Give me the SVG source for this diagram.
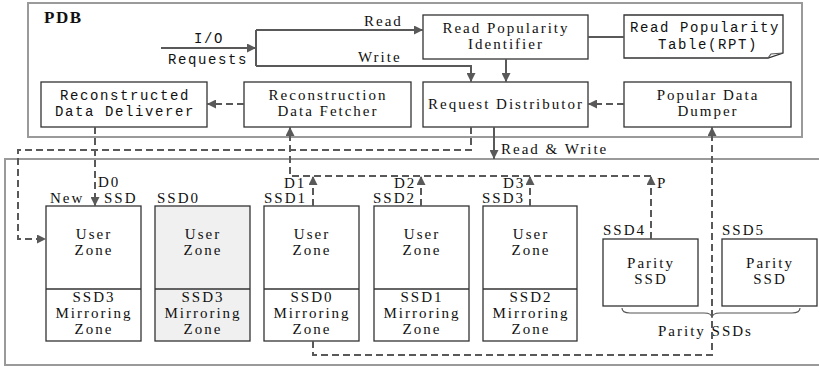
<svg xmlns="http://www.w3.org/2000/svg" width="819" height="366" viewBox="0 0 819 366">
  <style>
    .frame { fill: none; stroke: #9a9a9a; stroke-width: 2; }
    .box { fill: #ffffff; stroke: #333333; stroke-width: 1.3; }
    .box.gray { fill: #f0f0f0; }
    .serif { font-family: "Liberation Serif", "DejaVu Serif", "Times New Roman", serif; font-size: 15px; font-weight: normal; fill: #111111; letter-spacing: 2px; }
    .mono { font-family: "Liberation Mono", "DejaVu Sans Mono", "Courier New", monospace; font-size: 14px; font-weight: normal; fill: #111111; letter-spacing: 1.6px; }
    .mid { text-anchor: middle; }
    .title { font-family: "Liberation Serif", "DejaVu Serif", "Times New Roman", serif; font-size: 17px; font-weight: bold; fill: #111111; letter-spacing: 1.5px; }
    .solid { fill: none; stroke: #595959; stroke-width: 2; }
    .dash { fill: none; stroke: #595959; stroke-width: 2; stroke-dasharray: 7 4; }
    .thin { fill: none; stroke: #555555; stroke-width: 1.2; }
  </style>
  <defs>
    <marker id="arrow" viewBox="0 0 10 10" refX="10" refY="5" markerWidth="9" markerHeight="9" markerUnits="userSpaceOnUse" orient="auto">
      <path d="M0,0 L10,5 L0,10 z" fill="#595959"/>
    </marker>
  </defs>

  <!-- outer frames -->
  <rect class="frame" x="28" y="3" width="774" height="134"/>
  <rect class="frame" x="5" y="159" width="818" height="206"/>
  <text class="title" x="44" y="23">PDB</text>

  <!-- PDB components -->
  <g id="read-popularity-identifier">
    <rect class="box" x="423" y="15" width="165" height="44"/>
    <text class="serif mid" x="506" y="33">Read Popularity</text>
    <text class="serif mid" x="506" y="49">Identifier</text>
  </g>
  <g id="read-popularity-table">
    <path class="box" d="M624,15 H783 V53 L768,58 H624 Z"/>
    <path class="thin" d="M768,58 L771,54 L783,53"/>
    <text class="mono mid" x="705" y="32">Read Popularity</text>
    <text class="mono mid" x="708" y="49">Table(RPT)</text>
  </g>
  <g id="reconstructed-data-deliverer">
    <rect class="box" x="41" y="82" width="166" height="45"/>
    <text class="mono mid" x="125" y="100">Reconstructed</text>
    <text class="mono mid" x="125" y="116">Data Deliverer</text>
  </g>
  <g id="reconstruction-data-fetcher">
    <rect class="box" x="244" y="82" width="167" height="45"/>
    <text class="serif mid" x="328" y="100">Reconstruction</text>
    <text class="serif mid" x="328" y="116">Data Fetcher</text>
  </g>
  <g id="request-distributor">
    <rect class="box" x="423" y="82" width="165" height="45"/>
    <text class="serif mid" x="506" y="109">Request Distributor</text>
  </g>
  <g id="popular-data-dumper">
    <rect class="box" x="624" y="82" width="167" height="45"/>
    <text class="serif mid" x="708" y="100">Popular Data</text>
    <text class="serif mid" x="708" y="116">Dumper</text>
  </g>

  <!-- SSD array -->
  <g id="new-ssd">
    <rect class="box" x="46" y="206" width="95" height="135"/>
    <line class="box" x1="46" y1="289" x2="141" y2="289"/>
    <text class="serif mid" x="94" y="239">User</text>
    <text class="serif mid" x="94" y="255">Zone</text>
    <text class="serif mid" x="94" y="302">SSD3</text>
    <text class="serif mid" x="94" y="318">Mirroring</text>
    <text class="serif mid" x="94" y="334">Zone</text>
    <text class="serif" x="50" y="203">New</text>
    <text class="serif" x="104" y="203">SSD</text>
    <text class="serif" x="98" y="187">D0</text>
  </g>
  <g id="ssd0">
    <rect class="box gray" x="155" y="206" width="95" height="135"/>
    <line class="box" x1="155" y1="289" x2="250" y2="289"/>
    <text class="serif mid" x="203" y="239">User</text>
    <text class="serif mid" x="203" y="255">Zone</text>
    <text class="serif mid" x="203" y="302">SSD3</text>
    <text class="serif mid" x="203" y="318">Mirroring</text>
    <text class="serif mid" x="203" y="334">Zone</text>
    <text class="serif" x="157" y="203">SSD0</text>
  </g>
  <g id="ssd1">
    <rect class="box" x="264" y="206" width="95" height="135"/>
    <line class="box" x1="264" y1="289" x2="359" y2="289"/>
    <text class="serif mid" x="312" y="239">User</text>
    <text class="serif mid" x="312" y="255">Zone</text>
    <text class="serif mid" x="312" y="302">SSD0</text>
    <text class="serif mid" x="312" y="318">Mirroring</text>
    <text class="serif mid" x="312" y="334">Zone</text>
    <text class="serif" x="264" y="203">SSD1</text>
    <text class="serif" x="284" y="188">D1</text>
  </g>
  <g id="ssd2">
    <rect class="box" x="374" y="206" width="95" height="135"/>
    <line class="box" x1="374" y1="289" x2="469" y2="289"/>
    <text class="serif mid" x="422" y="239">User</text>
    <text class="serif mid" x="422" y="255">Zone</text>
    <text class="serif mid" x="422" y="302">SSD1</text>
    <text class="serif mid" x="422" y="318">Mirroring</text>
    <text class="serif mid" x="422" y="334">Zone</text>
    <text class="serif" x="373" y="203">SSD2</text>
    <text class="serif" x="394" y="188">D2</text>
  </g>
  <g id="ssd3">
    <rect class="box" x="483" y="206" width="94" height="135"/>
    <line class="box" x1="483" y1="289" x2="577" y2="289"/>
    <text class="serif mid" x="531" y="239">User</text>
    <text class="serif mid" x="531" y="255">Zone</text>
    <text class="serif mid" x="531" y="302">SSD2</text>
    <text class="serif mid" x="531" y="318">Mirroring</text>
    <text class="serif mid" x="531" y="334">Zone</text>
    <text class="serif" x="482" y="203">SSD3</text>
    <text class="serif" x="503" y="188">D3</text>
  </g>
  <g id="ssd4">
    <rect class="box" x="603" y="239" width="95" height="67"/>
    <text class="serif mid" x="651" y="268">Parity</text>
    <text class="serif mid" x="651" y="284">SSD</text>
    <text class="serif" x="603" y="235">SSD4</text>
    <text class="serif" x="657" y="188">P</text>
  </g>
  <g id="ssd5">
    <rect class="box" x="722" y="239" width="95" height="67"/>
    <text class="serif mid" x="770" y="268">Parity</text>
    <text class="serif mid" x="770" y="284">SSD</text>
    <text class="serif" x="722" y="235">SSD5</text>
  </g>
  <g id="parity-ssds">
    <path class="thin" d="M622,308 Q622,313 630,313 H704 Q712,313 712,318 Q712,313 720,313 H792 Q800,313 800,308"/>
    <text class="serif" x="658" y="336">Parity SSDs</text>
  </g>

  <!-- connectors -->
  <g id="connectors">
    <line class="solid" x1="161" y1="48" x2="256" y2="48" marker-end="url(#arrow)"/>
    <text class="mono mid" x="209" y="43">I/O</text>
    <text class="mono mid" x="208" y="64">Requests</text>
    <path class="solid" d="M256,30 V66"/>
    <path class="solid" d="M256,30 H423" marker-end="url(#arrow)"/>
    <text class="serif" x="364" y="26">Read</text>
    <path class="solid" d="M256,66 H471 V82" marker-end="url(#arrow)"/>
    <text class="serif" x="358" y="62">Write</text>
    <line class="solid" x1="506" y1="59" x2="506" y2="82" marker-end="url(#arrow)"/>
    <line class="solid" x1="588" y1="37" x2="624" y2="37"/>
    <line class="dash" x1="624" y1="104" x2="588" y2="104" marker-end="url(#arrow)"/>
    <line class="dash" x1="244" y1="104" x2="207" y2="104" marker-end="url(#arrow)"/>
    <line class="solid" x1="494" y1="127" x2="494" y2="159" marker-end="url(#arrow)"/>
    <text class="serif" x="501" y="154">Read &amp; Write</text>
    <path class="dash" d="M471,127 V150 H18 V239 H46" marker-end="url(#arrow)"/>
    <line class="dash" x1="95" y1="127" x2="95" y2="206" marker-end="url(#arrow)"/>
    <path class="dash" d="M651,176 H290 V127" marker-end="url(#arrow)"/>
    <line class="dash" x1="313" y1="206" x2="313" y2="176" marker-end="url(#arrow)"/>
    <line class="dash" x1="421" y1="206" x2="421" y2="176" marker-end="url(#arrow)"/>
    <line class="dash" x1="530" y1="206" x2="530" y2="176" marker-end="url(#arrow)"/>
    <line class="dash" x1="651" y1="239" x2="651" y2="176" marker-end="url(#arrow)"/>
    <path class="dash" d="M313,341 V355 H712 V127" marker-end="url(#arrow)"/>
  </g>
</svg>
